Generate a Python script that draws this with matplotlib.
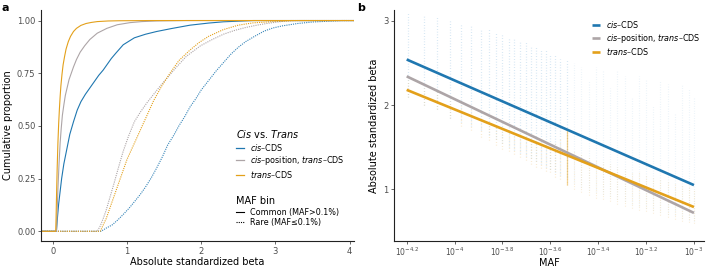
import matplotlib
matplotlib.use("Agg")
import matplotlib.pyplot as plt
from matplotlib.lines import Line2D

# ---------------------------------------------------------------- colours
C_CIS = "#1F77B0"
C_POS = "#ADA5A7"
C_TRANS = "#E3A01A"
C_AXIS = "#222222"
C_TICK = "#4D4D4D"

# ---------------------------------------------------------------- panel a data (CDFs)
cis_common_x = [-0.2, 0.05, 0.065, 0.08, 0.1, 0.12, 0.15, 0.19, 0.23, 0.28, 0.33, 0.38, 0.44, 0.5, 0.56,
                0.62, 0.68, 0.73, 0.79, 0.85, 0.95, 1.1, 1.25, 1.4, 1.6, 1.85, 2.1, 2.3, 2.7, 4.2]
cis_common_y = [0, 0, 0.07, 0.13, 0.19, 0.25, 0.32, 0.39, 0.46, 0.52, 0.575, 0.615, 0.65, 0.68, 0.71,
                0.74, 0.765, 0.79, 0.82, 0.845, 0.885, 0.918, 0.935, 0.948, 0.962, 0.978, 0.988, 0.994, 1, 1]
pos_common_x = [-0.2, 0.05, 0.06, 0.07, 0.085, 0.1, 0.115, 0.13, 0.15, 0.17, 0.2, 0.22, 0.25, 0.28,
                0.32, 0.37, 0.43, 0.5, 0.6, 0.73, 0.87, 1.04, 1.2, 1.4, 1.8, 4.2]
pos_common_y = [0, 0, 0.1, 0.2, 0.32, 0.42, 0.49, 0.55, 0.6, 0.645, 0.69, 0.72, 0.75, 0.78,
                0.815, 0.85, 0.88, 0.91, 0.94, 0.963, 0.98, 0.99, 0.995, 0.998, 1, 1]
trans_common_x = [-0.2, 0.04, 0.045, 0.05, 0.06, 0.07, 0.08, 0.09, 0.1, 0.11, 0.125, 0.14, 0.16, 0.18,
                  0.21, 0.24, 0.28, 0.32, 0.38, 0.45, 0.52, 0.6, 0.75, 0.9, 1.3, 4.2]
trans_common_y = [0, 0, 0.06, 0.15, 0.3, 0.42, 0.51, 0.58, 0.64, 0.69, 0.745, 0.79, 0.83, 0.865,
                  0.9, 0.925, 0.948, 0.963, 0.977, 0.986, 0.991, 0.995, 0.998, 0.999, 1, 1]

cis_rare_x = [-0.2, 0.65, 0.72, 0.8, 0.88, 0.95, 1.03, 1.1, 1.18, 1.25, 1.33, 1.4, 1.48, 1.55, 1.63, 1.7,
              1.78, 1.85, 1.93, 2.0, 2.1, 2.2, 2.3, 2.4, 2.5, 2.6, 2.72, 2.85, 2.97, 3.1, 3.3, 3.5, 3.9, 4.2]
cis_rare_y = [0, 0, 0.015, 0.03, 0.055, 0.08, 0.11, 0.14, 0.175, 0.21, 0.255, 0.30, 0.355, 0.41, 0.455, 0.5,
              0.545, 0.59, 0.63, 0.67, 0.715, 0.76, 0.80, 0.84, 0.873, 0.90, 0.925, 0.95, 0.965, 0.975,
              0.986, 0.993, 1, 1]
pos_rare_x = [-0.2, 0.6, 0.64, 0.68, 0.72, 0.77, 0.82, 0.86, 0.9, 0.95, 1.02, 1.1, 1.18, 1.27, 1.36,
              1.45, 1.56, 1.67, 1.8, 1.99, 2.15, 2.3, 2.45, 2.6, 2.75, 2.9, 3.05, 3.2, 4.2]
pos_rare_y = [0, 0, 0.025, 0.06, 0.1, 0.16, 0.22, 0.27, 0.32, 0.38, 0.45, 0.52, 0.565, 0.61, 0.65,
              0.69, 0.735, 0.78, 0.83, 0.88, 0.91, 0.935, 0.953, 0.967, 0.978, 0.987, 0.994, 1, 1]
trans_rare_x = [-0.2, 0.64, 0.68, 0.72, 0.77, 0.82, 0.91, 1.0, 1.09, 1.18, 1.27, 1.36, 1.47, 1.58,
                1.7, 1.85, 1.97, 2.1, 2.3, 2.5, 2.7, 2.97, 3.3, 4.2]
trans_rare_y = [0, 0, 0.03, 0.06, 0.11, 0.16, 0.25, 0.34, 0.41, 0.48, 0.55, 0.62, 0.69, 0.75,
                0.81, 0.86, 0.895, 0.925, 0.957, 0.978, 0.989, 0.995, 1, 1]

# ---------------------------------------------------------------- panel b data
# regression lines: log10(MAF) endpoints and fitted |beta|
fit_x = [-4.2, -3.0]
fit_cis = [2.54, 1.05]
fit_pos = [2.34, 0.72]
fit_trans = [2.18, 0.79]

# discrete MAF columns of the point cloud (log10 MAF), with |beta| ranges
col_x = [-4.195, -4.128, -4.072, -4.019, -3.974, -3.93, -3.89, -3.856, -3.827, -3.80, -3.773,
         -3.75, -3.725, -3.70, -3.68, -3.66, -3.64, -3.62, -3.60, -3.58, -3.56, -3.53]
col_cis_lo = [2.1, 2.0, 1.95, 1.85, 1.8, 1.75, 1.7, 1.65, 1.6, 1.55, 1.5,
              1.47, 1.43, 1.4, 1.37, 1.33, 1.3, 1.27, 1.24, 1.2, 1.17, 1.15]
col_cis_hi = [3.1, 3.05, 3.05, 3.0, 2.95, 2.95, 2.9, 2.9, 2.85, 2.85, 2.8,
              2.8, 2.75, 2.75, 2.7, 2.7, 2.65, 2.65, 2.6, 2.6, 2.55, 2.55]
col_trans_lo = [2.1, 2.0, 1.95, 1.85, 1.75, 1.7, 1.62, 1.58, 1.52, 1.48, 1.45,
                1.42, 1.38, 1.35, 1.3, 1.27, 1.25, 1.22, 1.2, 1.15, 1.12, 1.05]
col_trans_hi = [2.3, 2.2, 2.15, 2.05, 2.0, 1.95, 1.85, 1.8, 1.75, 1.72, 1.68,
                1.65, 1.62, 1.6, 1.57, 1.55, 1.53, 1.55, 1.5, 1.55, 1.6, 1.7]

# dense part of the cloud on the right
haze_x = [-3.5, -3.47, -3.44, -3.41, -3.38, -3.35, -3.32, -3.29, -3.26, -3.23, -3.2,
          -3.17, -3.14, -3.11, -3.08, -3.05, -3.02, -3.0]
haze_cis_lo = [1.08, 1.03, 0.99, 0.97, 0.94, 0.92, 0.89, 0.86, 0.83, 0.8, 0.78,
               0.76, 0.73, 0.71, 0.69, 0.66, 0.64, 0.62]
haze_cis_hi = [2.5, 2.45, 2.3, 2.45, 2.4, 2.2, 2.4, 2.35, 2.1, 2.35, 2.3,
               2.0, 2.3, 2.25, 1.9, 2.25, 2.2, 2.1]
haze_trans_lo = [1.0, 0.97, 0.93, 0.9, 0.88, 0.86, 0.83, 0.8, 0.78, 0.76, 0.74,
                 0.72, 0.69, 0.67, 0.65, 0.63, 0.61, 0.6]
haze_trans_hi = [1.45, 1.42, 1.38, 1.35, 1.32, 1.3, 1.27, 1.24, 1.21, 1.2, 1.16,
                 1.14, 1.12, 1.1, 1.08, 1.05, 1.03, 1.0]

maf_ticks = [-4.2, -4.0, -3.8, -3.6, -3.4, -3.2, -3.0]
maf_labels = [r"$10^{-4.2}$", r"$10^{-4}$", r"$10^{-3.8}$", r"$10^{-3.6}$",
              r"$10^{-3.4}$", r"$10^{-3.2}$", r"$10^{-3}$"]

# ---------------------------------------------------------------- figure
W, H = 708, 268
plt.rcParams["mathtext.fontset"] = "dejavusans"
fig = plt.figure(figsize=(W / 100, H / 100), dpi=100, facecolor="white")


def px_axes(left, top, right, bottom):
    return fig.add_axes([left / W, 1 - bottom / H, (right - left) / W, (bottom - top) / H])


def style(ax):
    for s in ("top", "right"):
        ax.spines[s].set_visible(False)
    for s in ("left", "bottom"):
        ax.spines[s].set_color(C_AXIS)
        ax.spines[s].set_linewidth(0.8)
    ax.tick_params(length=2.5, width=0.6, color=C_TICK, labelcolor=C_TICK, labelsize=6, pad=1.5)


DOT = (0, (1, 1))

# ---------------- panel a
ax = px_axes(41, 10, 354, 241)
style(ax)
lw = 0.8
ax.plot(cis_rare_x, cis_rare_y, color=C_CIS, lw=lw, ls=DOT, alpha=0.9)
ax.plot(pos_rare_x, pos_rare_y, color=C_POS, lw=lw, ls=DOT)
ax.plot(trans_rare_x, trans_rare_y, color=C_TRANS, lw=lw, ls=DOT)
ax.plot(cis_common_x, cis_common_y, color=C_CIS, lw=lw)
ax.plot(pos_common_x, pos_common_y, color=C_POS, lw=lw)
ax.plot(trans_common_x, trans_common_y, color=C_TRANS, lw=lw)
ax.set_xlim(-0.158, 4.06)
ax.set_ylim(-0.046, 1.05)
ax.set_xticks([0, 1, 2, 3, 4])
ax.set_yticks([0, 0.25, 0.5, 0.75, 1.0])
ax.set_yticklabels(["0.00", "0.25", "0.50", "0.75", "1.00"])
ax.set_xlabel("Absolute standardized beta", fontsize=7, labelpad=1)
ax.set_ylabel("Cumulative proportion", fontsize=7, labelpad=3)

h1 = [Line2D([], [], color=C_CIS, lw=0.9),
      Line2D([], [], color=C_POS, lw=0.9),
      Line2D([], [], color=C_TRANS, lw=0.9)]
l1 = [r"$\it{cis}$–CDS", r"$\it{cis}$–position, $\it{trans}$–CDS", r"$\it{trans}$–CDS"]
leg1 = ax.legend(h1, l1, title=r"$\it{Cis}$ vs. $\it{Trans}$", loc="upper left",
                 bbox_to_anchor=(236 / W, 1 - 128 / H), bbox_transform=fig.transFigure,
                 frameon=False, fontsize=5.8, title_fontsize=7, handlelength=1.0,
                 handletextpad=0.7, labelspacing=0.2, borderpad=0, borderaxespad=0)
leg1._legend_box.align = "left"
ax.add_artist(leg1)

h2 = [Line2D([], [], color="black", lw=0.8),
      Line2D([], [], color="black", lw=0.8, ls=DOT)]
l2 = ["Common (MAF>0.1%)", "Rare (MAF≤0.1%)"]
leg2 = ax.legend(h2, l2, title="MAF bin", loc="upper left",
                 bbox_to_anchor=(236 / W, 1 - 196 / H), bbox_transform=fig.transFigure,
                 frameon=False, fontsize=5.8, title_fontsize=7, handlelength=1.0,
                 handletextpad=0.7, labelspacing=0.2, borderpad=0, borderaxespad=0)
leg2._legend_box.align = "left"

# ---------------- panel b
bx = px_axes(394, 10, 704, 241)
style(bx)
PT = (0, (0.6, 1.6))
bx.vlines(col_x, col_cis_lo, col_cis_hi, color="#8DBCE0", lw=0.9, alpha=0.45, linestyles=[PT])
bx.vlines(col_x, col_trans_lo, col_trans_hi, color="#E9B55C", lw=0.9, alpha=0.35, linestyles=[PT])
bx.vlines([col_x[-1]], [col_trans_lo[-1]], [col_trans_hi[-1]], color="#E3A01A", lw=0.9, alpha=0.45)
bx.vlines(haze_x, haze_cis_lo, haze_cis_hi, color="#A9CBE6", lw=0.8, alpha=0.3, linestyles=[PT])
bx.vlines(haze_x, haze_trans_lo, haze_trans_hi, color="#E9B55C", lw=0.8, alpha=0.35, linestyles=[PT])
bx.plot(fit_x, fit_cis, color=C_CIS, lw=1.9, solid_capstyle="butt", label=r"$\it{cis}$–CDS")
bx.plot(fit_x, fit_pos, color=C_POS, lw=1.9, solid_capstyle="butt",
        label=r"$\it{cis}$–position, $\it{trans}$–CDS")
bx.plot(fit_x, fit_trans, color=C_TRANS, lw=1.9, solid_capstyle="butt", label=r"$\it{trans}$–CDS")
bx.set_xlim(-4.253, -2.958)
bx.set_ylim(0.387, 3.127)
bx.set_xticks(maf_ticks)
bx.set_xticklabels(maf_labels)
bx.tick_params(axis="x", labelsize=5.5, pad=1)
bx.set_yticks([1, 2, 3])
bx.set_xlabel("MAF", fontsize=7, labelpad=0)
bx.set_ylabel("Absolute standardized beta", fontsize=7, labelpad=3)
bx.legend(loc="upper left", bbox_to_anchor=(592 / W, 1 - 19 / H), bbox_transform=fig.transFigure,
          frameon=False, fontsize=5.8, handlelength=1.0, handletextpad=0.7,
          labelspacing=0.2, borderpad=0, borderaxespad=0)

fig.text(2 / W, 1 - 8 / H, "a", fontsize=8, fontweight="bold", va="center", ha="left")
fig.text(357 / W, 1 - 8 / H, "b", fontsize=8, fontweight="bold", va="center", ha="left")

fig.savefig("out.png", dpi=100, facecolor="white")
